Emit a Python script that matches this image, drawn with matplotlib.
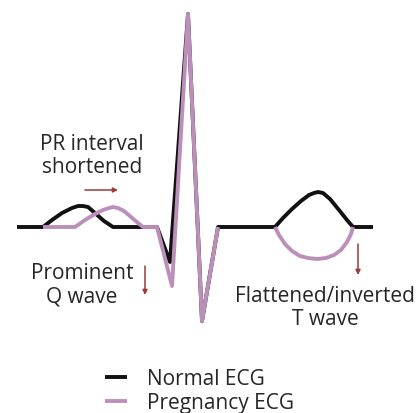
import numpy as np
import matplotlib
matplotlib.use("Agg")
import matplotlib.pyplot as plt

# Waveform data: time (arbitrary units) and amplitude (arbitrary units, baseline = 0)
normal_t = [17, 43, 52, 62, 72, 78, 83, 88, 95, 104, 113, 157, 170, 188, 202, 218,
            275, 283, 292, 301, 309, 314, 318, 323, 330, 339, 347, 353, 373]
normal_a = [0, 0, 7, 14, 19, 21, 21, 20, 14, 6, 0, 0, -35, 213, -94, 0,
            0, 9, 18, 26, 32, 34, 35, 34, 28, 17, 7, 0, 0]

preg_t = [43, 75, 85, 95, 103, 109, 113, 118, 124, 131, 138, 143, 157, 172, 188, 202, 218,
          np.nan,
          275, 279, 285, 292, 300, 308, 317, 326, 334, 341, 347, 351, 353]
preg_a = [0, 0, 7, 13, 17, 19, 20, 19, 16, 10, 4, 0, 0, -59, 213, -94, 0,
          np.nan,
          0, -8, -17, -24, -29, -31, -32, -31, -28, -23, -15, -7, 0]

series_labels = ["Normal ECG", "Pregnancy ECG"]
annotations = ["PR interval\nshortened", "Prominent\nQ wave", "Flattened/inverted\nT wave"]

BLACK = "#111111"
PINK = "#bc8fba"
ARROW = "#9b3b3b"
TEXT = "#262626"
FONT = ["Open Sans", "DejaVu Sans"]
FS = 15

fig = plt.figure(figsize=(4.18, 4.14), dpi=100)
ax = fig.add_axes([0, 0, 1, 1])
ax.set_xlim(0, 418)
ax.set_ylim(228 - 414, 228)
ax.axis("off")

l1, = ax.plot(normal_t, normal_a, color=BLACK, lw=2.8, solid_joinstyle="round",
              solid_capstyle="butt", label=series_labels[0], zorder=2)
l2, = ax.plot(preg_t, preg_a, color=PINK, lw=2.8, solid_joinstyle="round",
              solid_capstyle="butt", label=series_labels[1], zorder=3)

# text annotations (positions in axes data units)
ax.text(92, 228 - 156, annotations[0], ha="center", va="center", fontsize=FS,
        color=TEXT, family=FONT, linespacing=1.15)
ax.text(82, 228 - 285, annotations[1], ha="center", va="center", fontsize=FS,
        color=TEXT, family=FONT, linespacing=1.15)
ax.text(325, 228 - 308, annotations[2], ha="center", va="center", fontsize=FS,
        color=TEXT, family=FONT, linespacing=1.1)

arrow_kw = dict(arrowstyle="-|>", color=ARROW, lw=1.1, mutation_scale=7,
                shrinkA=0, shrinkB=0)
ax.annotate("", xy=(118, 228 - 191), xytext=(85, 228 - 191), arrowprops=arrow_kw)
ax.annotate("", xy=(145, 228 - 296), xytext=(145, 228 - 267), arrowprops=arrow_kw)
ax.annotate("", xy=(358, 228 - 276), xytext=(358, 228 - 245), arrowprops=arrow_kw)

fig.legend(handles=[l1, l2], loc="upper left", bbox_to_anchor=(105 / 418, 1 - 369 / 414),
           frameon=False, handlelength=1.05, handletextpad=0.95, labelspacing=0.15,
           borderpad=0, borderaxespad=0,
           prop={"family": FONT, "size": FS}, labelcolor=TEXT)

fig.savefig("out.png", dpi=100, facecolor="white")
